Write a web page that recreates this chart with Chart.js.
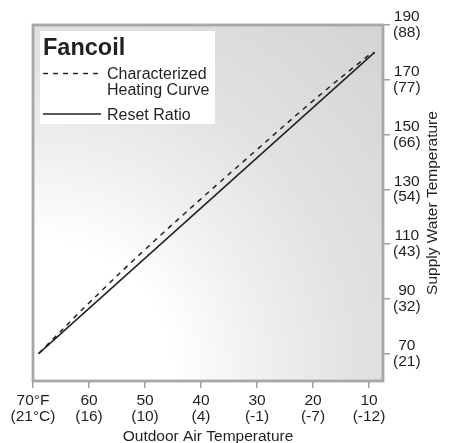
<!DOCTYPE html>
<html>
<head>
<meta charset="utf-8">
<script src="https://cdn.jsdelivr.net/npm/chart.js@4"></script>
<style>
  html, body { margin: 0; padding: 0; background: #ffffff; }
  #wrap { width: 450px; height: 443px; position: relative; }
</style>
</head>
<body>
<div id="wrap"><canvas id="c" width="450" height="443"></canvas></div>
<script>
// ---- data ----
const legendTitle = 'Fancoil';
const heatingLabel = ['Characterized', 'Heating Curve'];
const resetLabel = ['Reset Ratio'];

const heatingX = [69, 60, 50, 40, 30, 20, 10, 9];
const heatingY = [70, 88.5, 108, 126.5, 144.5, 162.3, 179, 180];

const resetX = [69, 9];
const resetY = [70, 180];

const xTickValues = [70, 60, 50, 40, 30, 20, 10];
const xTickLabels = [['70°F', '(21°C)'], ['60', '(16)'], ['50', '(10)'], ['40', '(4)'], ['30', '(-1)'], ['20', '(-7)'], ['10', '(-12)']];
const yTickValues = [70, 90, 110, 130, 150, 170, 190];
const yTickLabels = [['70', '(21)'], ['90', '(32)'], ['110', '(43)'], ['130', '(54)'], ['150', '(66)'], ['170', '(77)'], ['190', '(88)']];

const xTitle = 'Outdoor Air Temperature';
const yTitle = 'Supply Water Temperature';

const FONT = '"Liberation Sans", Arial, Helvetica, sans-serif';
const INK = '#231f20';

const toPts = (xs, ys) => xs.map((x, i) => ({ x: x, y: ys[i] }));

const decor = {
  id: 'decor',
  beforeDatasetsDraw(chart) {
    const { ctx, chartArea: a } = chart;
    ctx.save();
    const g = ctx.createRadialGradient(a.left, a.bottom, 0, a.left, a.bottom, 500);
    g.addColorStop(0, '#ffffff');
    g.addColorStop(0.28, '#ffffff');
    g.addColorStop(0.48, '#eeeeee');
    g.addColorStop(0.65, '#e2e2e2');
    g.addColorStop(1, '#d3d3d3');
    ctx.fillStyle = g;
    ctx.fillRect(a.left, a.top, a.right - a.left, a.bottom - a.top);
    ctx.strokeStyle = '#a7a7a7';
    ctx.lineWidth = 2.8;
    ctx.strokeRect(a.left, a.top, a.right - a.left, a.bottom - a.top);
    ctx.restore();
  },
  afterDraw(chart) {
    const { ctx, chartArea: a } = chart;
    ctx.save();
    // legend box
    const bx = a.left + 7, by = a.top + 6, bw = 175, bh = 93;
    ctx.fillStyle = '#ffffff';
    ctx.fillRect(bx, by, bw, bh);
    ctx.fillStyle = INK;
    ctx.textBaseline = 'alphabetic';
    ctx.textAlign = 'left';
    ctx.font = 'bold 23.5px ' + FONT;
    ctx.fillText(legendTitle, bx + 3, by + 24);
    // dashed sample
    ctx.strokeStyle = INK;
    ctx.lineWidth = 1.4;
    ctx.setLineDash([5, 5]);
    ctx.beginPath();
    ctx.moveTo(bx + 3, by + 42.5);
    ctx.lineTo(bx + 61, by + 42.5);
    ctx.stroke();
    ctx.setLineDash([]);
    ctx.beginPath();
    ctx.moveTo(bx + 3, by + 83);
    ctx.lineTo(bx + 61, by + 83);
    ctx.stroke();
    ctx.font = '16px ' + FONT;
    heatingLabel.forEach((t, i) => ctx.fillText(t, bx + 67, by + 48 + i * 16));
    resetLabel.forEach((t, i) => ctx.fillText(t, bx + 67, by + 89 + i * 16));
    // axis titles
    ctx.font = '15.5px ' + FONT;
    ctx.textAlign = 'center';
    ctx.fillText(xTitle, (a.left + a.right) / 2, 441);
    ctx.translate(437, (a.top + a.bottom) / 2);
    ctx.rotate(-Math.PI / 2);
    ctx.fillText(yTitle, 0, 0);
    ctx.restore();
  }
};

new Chart(document.getElementById('c'), {
  type: 'line',
  data: {
    datasets: [
      {
        label: heatingLabel.join(' '),
        data: toPts(heatingX, heatingY),
        borderColor: INK,
        borderWidth: 1.5,
        borderDash: [5, 5],
        pointRadius: 0,
        tension: 0.4,
        fill: false
      },
      {
        label: resetLabel.join(' '),
        data: toPts(resetX, resetY),
        borderColor: INK,
        borderWidth: 1.5,
        pointRadius: 0,
        tension: 0,
        fill: false
      }
    ]
  },
  options: {
    responsive: false,
    animation: false,
    devicePixelRatio: 1,
    layout: { padding: { left: 33, top: 25, right: 0, bottom: 0 } },
    plugins: { legend: { display: false }, tooltip: { enabled: false } },
    scales: {
      x: {
        type: 'linear',
        reverse: true,
        min: 7.5,
        max: 70,
        position: 'bottom',
        afterBuildTicks(s) { s.ticks = xTickValues.map(v => ({ value: v })); },
        afterFit(s) { s.height = 62; },
        grid: { display: true, drawOnChartArea: false, drawTicks: true, tickLength: 7, color: '#a0a0a0', lineWidth: 1.5 },
        border: { display: false },
        ticks: {
          autoSkip: false,
          maxRotation: 0,
          padding: 4,
          color: INK,
          font: { family: FONT, size: 15.5, lineHeight: 1.08 },
          callback(v) { const i = xTickValues.indexOf(v); return i >= 0 ? xTickLabels[i] : ''; }
        }
      },
      y: {
        type: 'linear',
        min: 60,
        max: 190,
        position: 'right',
        afterBuildTicks(s) { s.ticks = yTickValues.map(v => ({ value: v })); },
        afterFit(s) { s.width = 67; },
        grid: { display: true, drawOnChartArea: false, drawTicks: true, tickLength: 7, color: '#a0a0a0', lineWidth: 1.5 },
        border: { display: false },
        ticks: {
          autoSkip: false,
          padding: 3,
          crossAlign: 'center',
          color: INK,
          font: { family: FONT, size: 15.5, lineHeight: 1.02 },
          callback(v) { const i = yTickValues.indexOf(v); return i >= 0 ? yTickLabels[i] : ''; }
        }
      }
    }
  },
  plugins: [decor]
});
</script>
</body>
</html>
